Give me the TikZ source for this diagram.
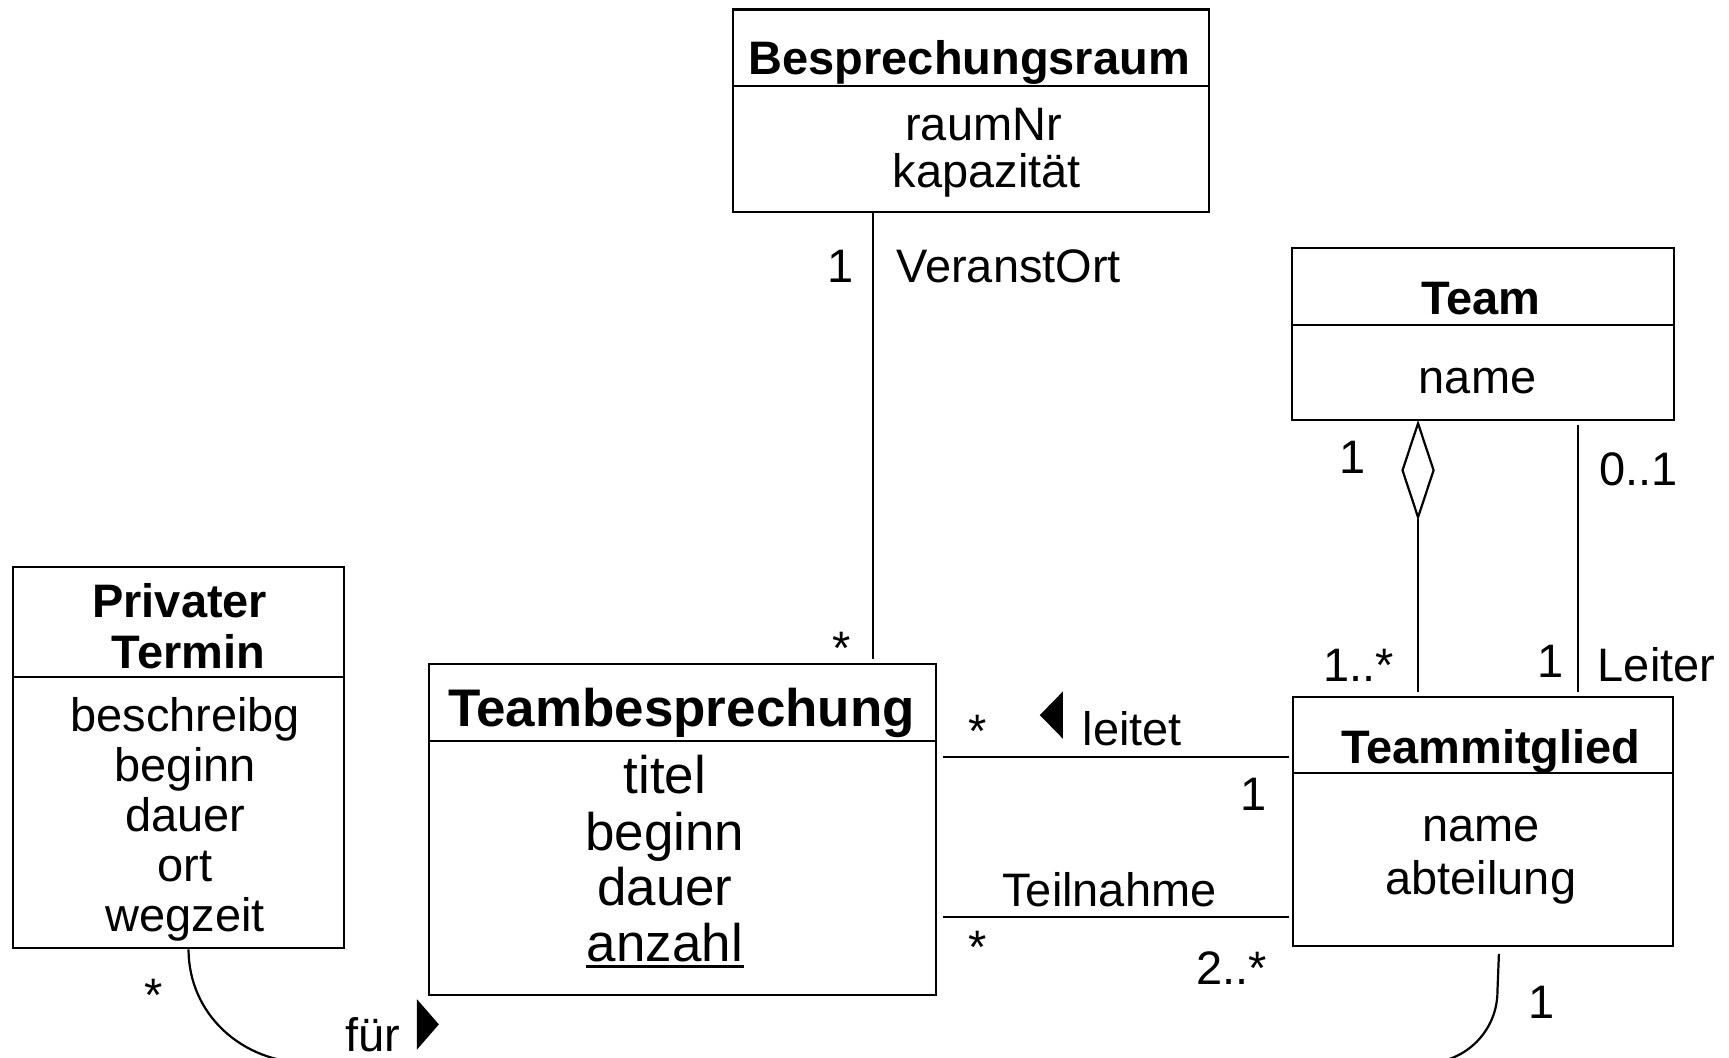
\documentclass[tikz,border=0pt]{standalone}
\usepackage{fontspec}
\setmainfont{Liberation Sans}
\usetikzlibrary{calc,shapes.geometric}
\newcommand\fA{\fontsize{21.3pt}{25pt}\selectfont}
\newcommand\fB{\fontsize{24pt}{28pt}\selectfont}
\begin{document}
\begin{tikzpicture}[x=0.5pt,y=-0.5pt,line width=1pt,
  box/.style={draw,line width=1pt,rectangle,inner sep=0,anchor=north west},
  txt/.style={anchor=base,inner sep=0,font=\fA},
  ttl/.style={anchor=base,inner sep=0,font=\fA\bfseries},
  big/.style={anchor=base,inner sep=0,font=\fB},
  bigttl/.style={anchor=base,inner sep=0,font=\fB\bfseries},
  lbl/.style={anchor=base,inner sep=0,font=\fA},
  lblw/.style={anchor=base west,inner sep=0,font=\fA},
  navtri/.style={fill=black,draw=none}]
\useasboundingbox (0,0) rectangle (1568,959);

% Besprechungsraum
\node[box,minimum width=215.75pt,minimum height=91.9pt] (BR) at (664,7.6) {};
\draw ($(BR.north west)+(0,70.1)$) -- ($(BR.north east)+(0,70.1)$);
\node[ttl] (brT) at (879,68) {Besprechungsraum};
\node[txt] (brA1) at (892,127) {raumNr};
\node[txt] (brA2) at (895,170) {kapazität};

% Team
\node[box,minimum width=173pt,minimum height=78pt] (Team) at (1171,224) {};
\draw ($(Team.north west)+(0,71)$) -- ($(Team.north east)+(0,71)$);
\node[ttl] (teamT) at (1343,285) {Team};
\node[txt] (teamA) at (1340,357) {name};

% Privater Termin
\node[box,minimum width=150pt,minimum height=173pt] (PT) at (11,513) {};
\draw ($(PT.north west)+(0,101)$) -- ($(PT.north east)+(0,101)$);
\node[ttl] (ptT1) at (163,560) {Privater};
\node[ttl] (ptT2) at (171,606) {Termin};
\node[txt] (ptA1) at (168,663) {beschreibg};
\node[txt] (ptA2) at (168,708.4) {beginn};
\node[txt] (ptA3) at (168,753.8) {dauer};
\node[txt] (ptA4) at (168,799.1) {ort};
\node[txt] (ptA5) at (168,844.5) {wegzeit};

% Teambesprechung
\node[box,minimum width=230pt,minimum height=150pt] (TB) at (388,601) {};
\draw ($(TB.north west)+(0,71)$) -- ($(TB.north east)+(0,71)$);
\node[bigttl] (tbT) at (618,659) {Teambesprechung};
\node[big] (tbA1) at (603,720) {titel};
\node[big] (tbA2) at (603,771) {beginn};
\node[big] (tbA3) at (603,821) {dauer};
\node[big] (tbA4) at (603,872) {anzahl};
\draw ($(tbA4.base west)+(0,4.5)$) -- ($(tbA4.base east)+(0,4.5)$);

% Teammitglied
\node[box,minimum width=172.15pt,minimum height=113pt] (TM) at (1171.7,631) {};
\draw ($(TM.north west)+(0,70)$) -- ($(TM.north east)+(0,70)$);
\node[ttl] (tmT) at (1352,692) {Teammitglied};
\node[txt] (tmA1) at (1343,763) {name};
\node[txt] (tmA2) at (1343,811) {abteilung};

% VeranstOrt
\coordinate (vx) at (792,0);
\draw (BR.south -| vx) -- ($(TB.north -| vx)+(0,-3)$);
\node[lbl] (m1) at (762.5,256) {1};
\node[lblw] (vo) at (812,256) {VeranstOrt};
\node[lbl] (m2) at (763,603) {*};

% leitet
\coordinate (ly) at (0,686.5);
\draw ($(TB.east |- ly)+(5,0)$) -- ($(TM.west |- ly)+(-3,0)$);
\node[lbl] (m3) at (887,678) {*};
\fill[navtri] (964,627) -- (964,670) -- (943,648.5) -- cycle;
\node[lblw] (lt) at (981,676) {leitet};
\node[lbl] (m4) at (1136.5,735) {1};

% Teilnahme
\coordinate (ty) at (0,831.6);
\draw ($(TB.east |- ty)+(5,0)$) -- ($(TM.west |- ty)+(-3,0)$);
\node[lblw] (tn) at (908,822) {Teilnahme};
\node[lbl] (m5) at (887,874) {*};
\node[lblw] (m6) at (1084,893) {2..*};

% Aggregation Team - Teammitglied
\node[draw,diamond,inner sep=0,minimum width=14.5pt,minimum height=43pt,anchor=north] (agg) at (1286,382.5) {};
\draw (agg.south) -- ($(TM.north -| agg)+(0,-3)$);
\node[lbl] (m7) at (1227,429) {1};
\node[lbl] (m8) at (1232,618) {1..*};

% Leiter
\coordinate (lx) at (1431,0);
\draw ($(Team.south -| lx)+(0,3)$) -- ($(TM.north -| lx)+(0,-3)$);
\node[lbl] (m9) at (1486,440) {0..1};
\node[lbl] (m10) at (1406,614) {1};
\node[lblw] (lei) at (1448,618) {Leiter};

% fuer
\draw ($(PT.south)+(9,0)$) .. controls +(0,58.5) and +(-60.7,0) .. (280,964)
  -- (1293,964) .. controls +(35.9,0) and +(0,35.9) .. (1358,899)
  -- ($(TM.south)+(14.5,6)$);
\node[lbl] (m11) at (139,917) {*};
\node[lbl] (fu) at (338,954) {für};
\fill[navtri] (378,906) -- (378,952) -- (398,929) -- cycle;
\node[lbl] (m12) at (1398,924) {1};
\end{tikzpicture}
\end{document}
